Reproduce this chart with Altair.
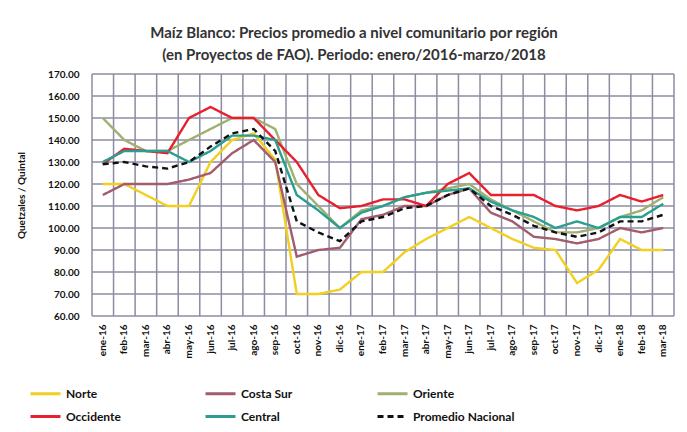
import altair as alt
import pandas as pd

months = ["ene-16", "feb-16", "mar-16", "abr-16", "may-16", "jun-16", "jul-16", "ago-16", "sep-16",
          "oct-16", "nov-16", "dic-16", "ene-17", "feb-17", "mar-17", "abr-17", "may-17", "jun-17",
          "jul-17", "ago-17", "sep-17", "oct-17", "nov-17", "dic-17", "ene-18", "feb-18", "mar-18"]

norte = [120, 120, 115, 110, 110, 130, 140, 143, 131, 70, 70, 72, 80, 80, 89, 95, 100, 105,
         100, 95, 91, 90, 75, 81, 95, 90, 90]
costa_sur = [115, 120, 120, 120, 122, 125, 134, 140, 130, 87, 90, 91, 104, 106, 110, 110, 115, 118,
             107, 103, 96, 95, 93, 95, 100, 98, 100]
oriente = [150, 140, 135, 135, 140, 145, 150, 150, 145, 120, 110, 100, 108, 110, 114, 116, 118, 120,
           113, 108, 103, 98, 98, 100, 105, 108, 114]
occidente = [129, 136, 135, 134, 150, 155, 150, 150, 140, 130, 115, 109, 110, 113, 113, 110, 120, 125,
             115, 115, 115, 110, 108, 110, 115, 112, 115]
central = [130, 135, 135, 135, 130, 135, 142, 142, 140, 115, 108, 100, 107, 110, 114, 116, 117, 118,
           112, 108, 105, 100, 103, 100, 105, 105, 111]
promedio = [129, 130, 128, 127, 130, 137, 143, 145, 135, 103, 98, 94, 103, 105, 109, 110, 115, 118,
            110, 106, 101, 98, 96, 98, 103, 103, 106]

series_names = ["Norte", "Costa Sur", "Oriente", "Occidente", "Central", "Promedio Nacional"]
series_values = [norte, costa_sur, oriente, occidente, central, promedio]
series_colors = ["#f0d020", "#a25c6c", "#9fb070", "#e8202e", "#2a9e90", "#111111"]
series_dash = [[1, 0], [1, 0], [1, 0], [1, 0], [1, 0], [6, 4]]

y_ticks = [60, 70, 80, 90, 100, 110, 120, 130, 140, 150, 160, 170]

rows = []
for name, vals in zip(series_names, series_values):
    for m, v in zip(months, vals):
        rows.append({"Mes": m, "Serie": name, "Precio": v})
df = pd.DataFrame(rows)
df_ygrid = pd.DataFrame({"Precio": y_ticks})
df_xgrid = pd.DataFrame({"Mes": months})
df_xend = pd.DataFrame({"Mes": months[-1:]})

FONT = "Lato"
GRID = "#8c8ca2"

x_scale = alt.Scale(domain=months, paddingInner=0, paddingOuter=0)
y_scale = alt.Scale(domain=[60, 170], nice=False, zero=False)

x_axis = alt.Axis(title=None, labelAngle=270, labelFontWeight="bold", labelFontSize=10,
                  labelFont=FONT, labelColor="#111", ticks=False, domain=False,
                  grid=False, labelPadding=8)
y_axis = alt.Axis(title="Quetzales / Quintal", values=y_ticks, format=".2f", orient="left",
                  labelFontWeight="bold", labelFontSize=10, labelFont=FONT, labelColor="#111",
                  titleFont=FONT, titleFontSize=10, titleFontWeight="bold", titleColor="#111",
                  ticks=False, domain=False, grid=False, labelPadding=13, titlePadding=21)

legend_cfg = dict(title=None, orient="none", legendX=-63, legendY=303, direction="horizontal",
                  columns=3, columnPadding=78, rowPadding=-7,
                  symbolType="stroke", symbolSize=900, symbolStrokeWidth=3,
                  labelFont=FONT, labelFontSize=12, labelFontWeight="bold",
                  labelColor="#111", labelOffset=4)

ygrid = alt.Chart(df_ygrid).mark_rule(color=GRID, strokeWidth=1.5).encode(
    y=alt.Y("Precio:Q", scale=y_scale, axis=y_axis))
xgrid = alt.Chart(df_xgrid).mark_rule(color=GRID, strokeWidth=1.5).encode(
    x=alt.X("Mes:N", scale=x_scale, bandPosition=0, axis=x_axis))
xend = alt.Chart(df_xend).mark_rule(color=GRID, strokeWidth=1.5).encode(
    x=alt.X("Mes:N", scale=x_scale, bandPosition=1, axis=x_axis))

lines = alt.Chart(df).mark_line(strokeWidth=2.4).encode(
    x=alt.X("Mes:N", scale=x_scale, axis=x_axis),
    y=alt.Y("Precio:Q", scale=y_scale, axis=y_axis),
    color=alt.Color("Serie:N", sort=series_names,
                    scale=alt.Scale(domain=series_names, range=series_colors),
                    legend=alt.Legend(**legend_cfg)),
    strokeDash=alt.StrokeDash("Serie:N", sort=series_names,
                              scale=alt.Scale(domain=series_names, range=series_dash),
                              legend=alt.Legend(**legend_cfg)),
)

chart = alt.layer(ygrid, xgrid, xend, lines).properties(
    width=582,
    height=242,
    background="white",
    padding={"left": 8, "top": 18, "right": 0, "bottom": 0},
    title=alt.Title(["Maíz Blanco: Precios promedio a nivel comunitario por región",
                     "(en Proyectos de FAO). Periodo: enero/2016-marzo/2018"],
                    font=FONT, fontSize=15, fontWeight="bold", color="#333",
                    lineHeight=22, offset=6, anchor="middle", dx=-29),
).configure_view(stroke=None)

chart.save("out.html", embed_options={"renderer": "svg", "actions": False})
